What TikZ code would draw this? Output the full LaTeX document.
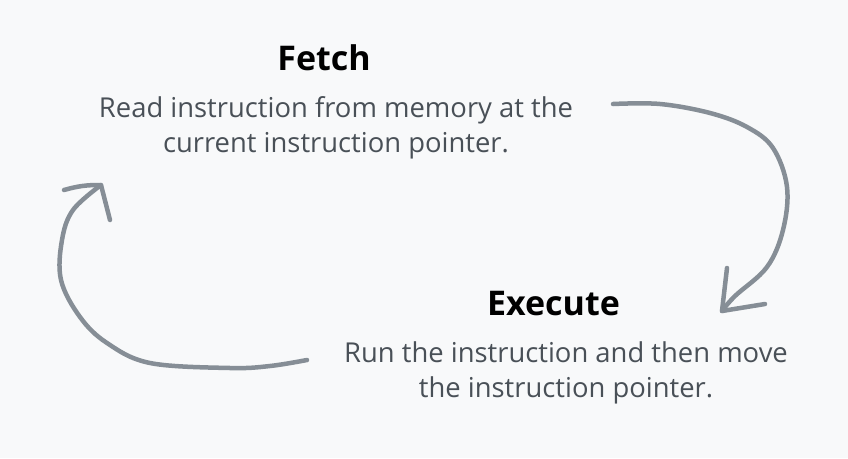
\documentclass[tikz,border=0pt]{standalone}
\usepackage{fontspec}
\setmainfont{Open Sans}
\usepackage{tikz}
\usetikzlibrary{positioning, calc}
\usepackage{xcolor}
\definecolor{bgpaper}{HTML}{F8F9FA}
\definecolor{desctext}{HTML}{495057}
\definecolor{loopgray}{HTML}{868E96}

\begin{document}
\begin{tikzpicture}[
        x=1pt, y=-1pt,
        title/.style={
            anchor=base,
            inner sep=0pt,
            font=\fontsize{34}{40}\selectfont\bfseries,
            text=black
        },
        desc/.style={
            anchor=north,
            inner sep=0pt,
            align=center,
            font=\fontsize{27.4}{35}\selectfont,
            text=desctext
        },
        loopline/.style={loopgray, line width=4.5pt, line cap=round, line join=round}
    ]

    % --- BACKGROUND ---
    \fill [bgpaper] (0,0) rectangle (848,458);

    % --- NODES ---
    \node (fetch) [title] at (324,70) {Fetch};
    \node (fetchtxt) [desc] at (336,96) {Read instruction from memory at the\\current instruction pointer.};

    \node (exec) [title] at (553.5,315) {Execute};
    \node (exectxt) [desc] at (566,341) {Run the instruction and then move\\the instruction pointer.};

    % --- ENDS ---
    \coordinate (fetchout) at (613,104);
    \coordinate (execin) at (722,311);
    \coordinate (execout) at (307,360);
    \coordinate (fetchin) at (101,185);

    % --- FETCH TO EXECUTE ---
    \draw [loopline] plot [smooth, tension=0.6] coordinates {
        (fetchout) (660,104) (710,113) (747,127) (773,148) (787,187)
        (783,230) (767,267) (735,296) (execin)};
    \draw [loopline] (727,268) -- (execin) -- (765,304);

    % --- EXECUTE TO FETCH ---
    \draw [loopline] plot [smooth, tension=0.6] coordinates {
        (execout) (270,366) (230,368) (150,363) (107,343) (80,317)
        (61,280) (62,240) (73,210) (fetchin)};
    \draw [loopline] (64,190) to [bend left=8] (fetchin) -- (110,220);

\end{tikzpicture}
\end{document}
